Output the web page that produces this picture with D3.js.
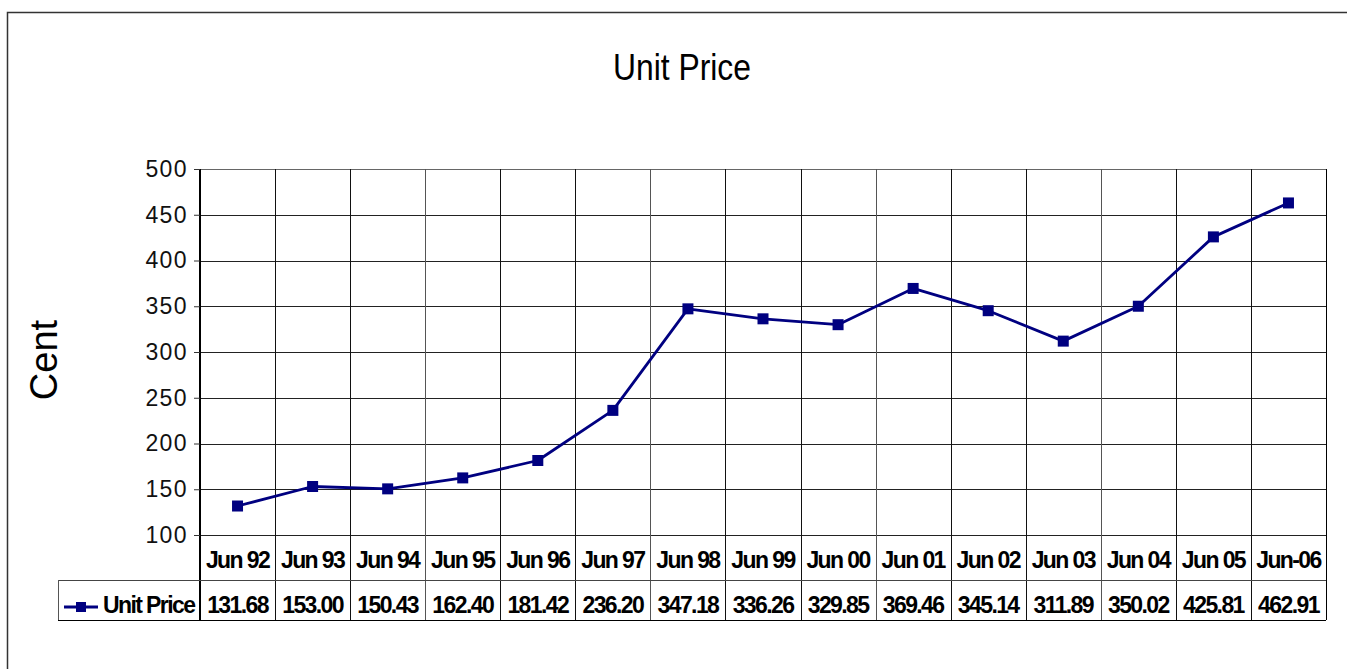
<!DOCTYPE html>
<html>
<head>
<meta charset="utf-8">
<script src="https://cdn.jsdelivr.net/npm/d3@7"></script>
<style>
  html, body { margin: 0; padding: 0; background: #fff; }
  svg { display: block; }
  text { font-family: 'Liberation Sans', Arial, sans-serif; }
</style>
</head>
<body>
<svg id="chart"></svg>
<script>
(function () {
  // Data
  var categories = ['Jun 92', 'Jun 93', 'Jun 94', 'Jun 95', 'Jun 96', 'Jun 97', 'Jun 98', 'Jun 99',
    'Jun 00', 'Jun 01', 'Jun 02', 'Jun 03', 'Jun 04', 'Jun 05', 'Jun-06']
  var unitPrice = [131.68, 153.00, 150.43, 162.40, 181.42, 236.20, 347.18, 336.26,
    329.85, 369.46, 345.14, 311.89, 350.02, 425.81, 462.91]
  var yTicks = [100, 150, 200, 250, 300, 350, 400, 450, 500]
  var seriesName = 'Unit Price'

  // Layout
  var WIDTH = 1347
  var HEIGHT = 669
  var LINE_COLOR = '#000080'
  var TABLE_FONT = 23
  var TABLE_SPACING = -1.6
  var plot = { left: 200, right: 1326, top: 169, bottom: 535 }
  var headerBottom = 580
  var rowBottom = 620
  var legendLeft = 58

  var svg = d3.select('#chart')
    .attr('width', WIDTH)
    .attr('height', HEIGHT)

  // outer chart border (right/bottom sit outside the picture)
  svg.append('rect')
    .attr('x', 7.5).attr('y', 12.5)
    .attr('width', 1400).attr('height', 700)
    .attr('fill', '#fff')
    .attr('stroke', '#333')
    .attr('stroke-width', 1.5)

  var x = d3.scaleBand()
    .domain(categories)
    .range([plot.left, plot.right])
    .padding(0)

  var y = d3.scaleLinear()
    .domain([100, 500])
    .range([plot.bottom, plot.top])

  // title
  svg.append('text')
    .attr('x', 682)
    .attr('y', 80)
    .attr('text-anchor', 'middle')
    .attr('font-size', 37)
    .attr('textLength', 138)
    .attr('lengthAdjust', 'spacingAndGlyphs')
    .text('Unit Price')

  // y axis title
  svg.append('text')
    .attr('transform', 'translate(57,360) rotate(-90)')
    .attr('text-anchor', 'middle')
    .attr('font-size', 38)
    .text('Cent')

  // horizontal gridlines
  svg.append('g')
    .selectAll('line')
    .data(yTicks)
    .enter().append('line')
    .attr('x1', plot.left).attr('x2', plot.right)
    .attr('y1', function (d) { return Math.round(y(d)) + 0.5 })
    .attr('y2', function (d) { return Math.round(y(d)) + 0.5 })
    .attr('stroke', function (d) { return d === 500 ? '#666' : '#222' })
    .attr('stroke-width', 1)

  // vertical gridlines through plot and table
  var bounds = categories.map(function (c) { return x(c) }).concat([plot.right])
  svg.append('g')
    .selectAll('line')
    .data(bounds.slice(1))
    .enter().append('line')
    .attr('x1', function (d) { return Math.round(d) + 0.5 })
    .attr('x2', function (d) { return Math.round(d) + 0.5 })
    .attr('y1', plot.top)
    .attr('y2', rowBottom)
    .attr('stroke', function (d, i) { return i % 3 === 2 ? '#555' : '#111' })
    .attr('stroke-width', 1)

  // left plot border
  svg.append('line')
    .attr('x1', plot.left).attr('x2', plot.left)
    .attr('y1', plot.top).attr('y2', rowBottom)
    .attr('stroke', '#000')
    .attr('stroke-width', 2)

  // y axis ticks and labels
  var yAxis = d3.axisLeft(y)
    .tickValues(yTicks)
    .tickSize(6)
    .tickPadding(6)
    .tickFormat(d3.format('d'))
  var yAxisG = svg.append('g')
    .attr('transform', 'translate(' + plot.left + ',0)')
    .call(yAxis)
  yAxisG.select('.domain').remove()
  yAxisG.selectAll('.tick line').attr('stroke', '#333')
  yAxisG.selectAll('.tick text')
    .attr('font-family', "'Liberation Sans', Arial, sans-serif")
    .attr('font-size', 23)
    .attr('letter-spacing', 1.4)
    .attr('fill', '#111')

  // table rows horizontal lines
  svg.append('line')
    .attr('x1', legendLeft).attr('x2', plot.right)
    .attr('y1', headerBottom + 0.5).attr('y2', headerBottom + 0.5)
    .attr('stroke', '#444')
  svg.append('line')
    .attr('x1', legendLeft).attr('x2', plot.right)
    .attr('y1', rowBottom + 0.5).attr('y2', rowBottom + 0.5)
    .attr('stroke', '#000')
  svg.append('line')
    .attr('x1', legendLeft + 0.5).attr('x2', legendLeft + 0.5)
    .attr('y1', headerBottom).attr('y2', rowBottom)
    .attr('stroke', '#555')
  svg.append('line')
    .attr('x1', plot.right + 0.5).attr('x2', plot.right + 0.5)
    .attr('y1', plot.top).attr('y2', rowBottom)
    .attr('stroke', '#000')

  // category header
  svg.append('g')
    .selectAll('text')
    .data(categories)
    .enter().append('text')
    .attr('x', function (d) { return x(d) + x.bandwidth() / 2 })
    .attr('y', 568)
    .attr('text-anchor', 'middle')
    .attr('font-size', TABLE_FONT)
    .attr('font-weight', 'bold')
    .attr('letter-spacing', TABLE_SPACING)
    .text(function (d) { return d })

  // values row
  svg.append('g')
    .selectAll('text')
    .data(unitPrice)
    .enter().append('text')
    .attr('x', function (d, i) { return x(categories[i]) + x.bandwidth() / 2 })
    .attr('y', 613)
    .attr('text-anchor', 'middle')
    .attr('font-size', TABLE_FONT)
    .attr('font-weight', 'bold')
    .attr('letter-spacing', TABLE_SPACING)
    .text(function (d) { return d.toFixed(2) })

  // legend key in table
  var keyY = 607
  svg.append('line')
    .attr('x1', 64).attr('x2', 98)
    .attr('y1', keyY).attr('y2', keyY)
    .attr('stroke', LINE_COLOR)
    .attr('stroke-width', 3)
  svg.append('rect')
    .attr('x', 81 - 5).attr('y', keyY - 5)
    .attr('width', 10).attr('height', 10)
    .attr('fill', LINE_COLOR)
  svg.append('text')
    .attr('x', 103)
    .attr('y', 613)
    .attr('font-size', TABLE_FONT)
    .attr('font-weight', 'bold')
    .attr('letter-spacing', TABLE_SPACING)
    .text(seriesName)

  // series line
  var points = unitPrice.map(function (v, i) {
    return [x(categories[i]) + x.bandwidth() / 2, y(v)]
  })
  svg.append('path')
    .attr('d', d3.line()(points))
    .attr('fill', 'none')
    .attr('stroke', LINE_COLOR)
    .attr('stroke-width', 2.8)
    .attr('stroke-linejoin', 'round')

  svg.append('g')
    .selectAll('rect')
    .data(points)
    .enter().append('rect')
    .attr('x', function (d) { return d[0] - 5.5 })
    .attr('y', function (d) { return d[1] - 5.5 })
    .attr('width', 11)
    .attr('height', 11)
    .attr('fill', LINE_COLOR)
})()
</script>
</body>
</html>
